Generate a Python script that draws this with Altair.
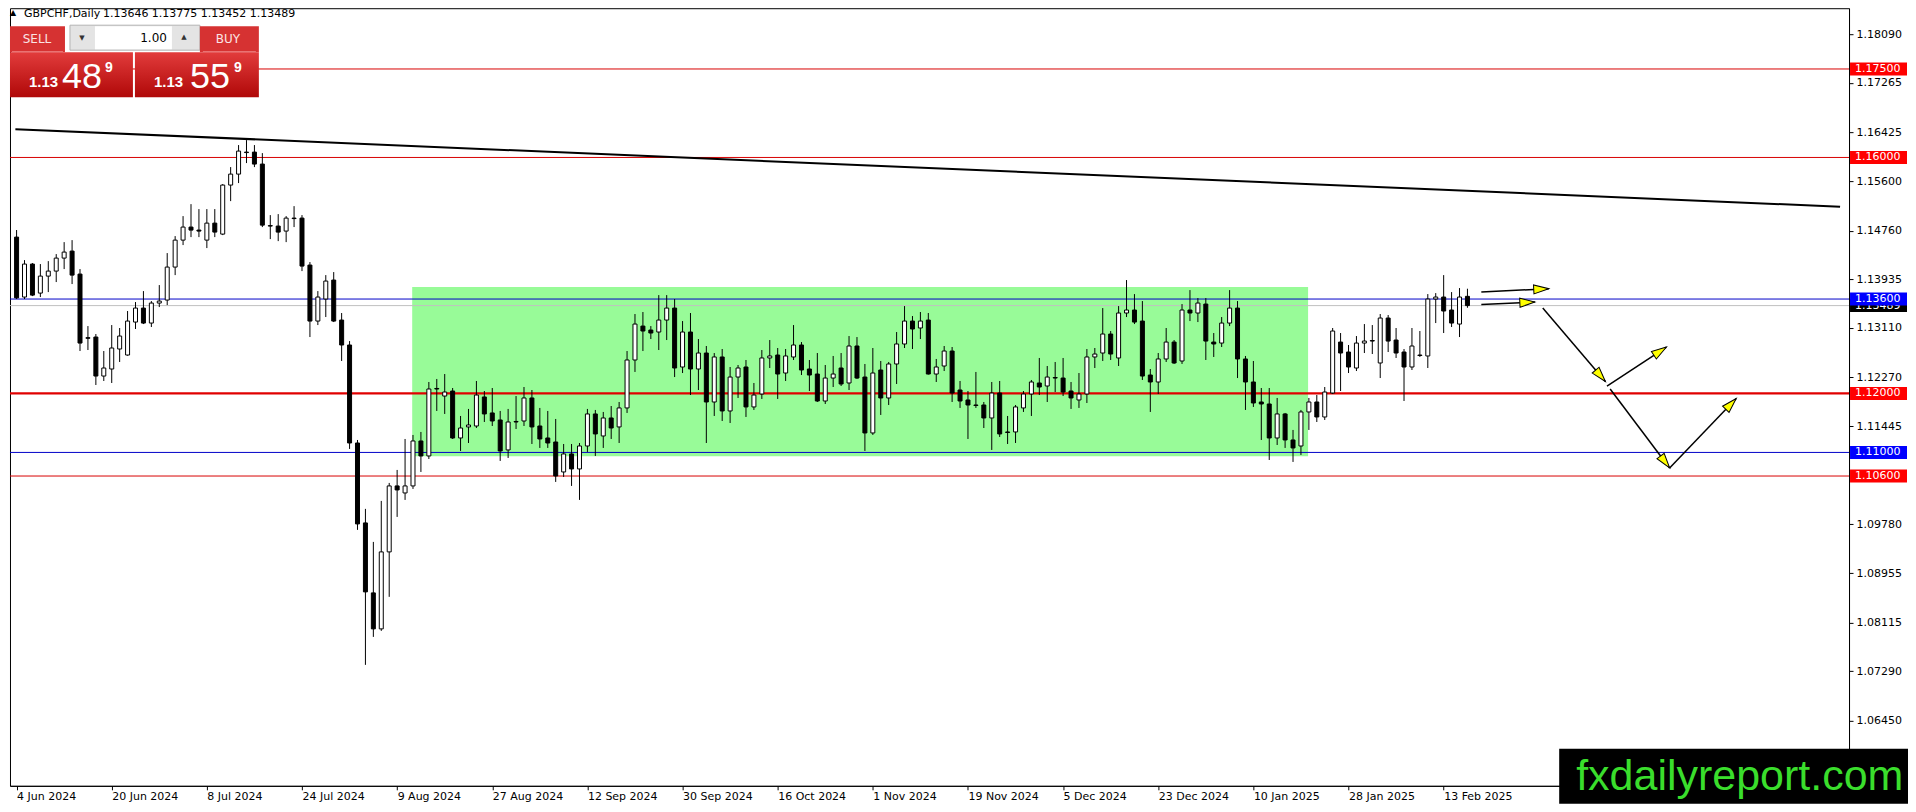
import altair as alt
import numpy as np
import pandas as pd

# ---------------- data ----------------
OPEN = [1.1465, 1.13634, 1.14193, 1.13701, 1.13989, 1.14074, 1.14294, 1.14413, 1.14023, 1.12945,
        1.12956, 1.12295, 1.12414, 1.12753, 1.12651, 1.13210, 1.13447, 1.13193, 1.13532, 1.13583,
        1.14142, 1.14599, 1.14820, 1.14769, 1.14599, 1.14887, 1.14701, 1.15532, 1.15718, 1.16091,
        1.16091, 1.15888, 1.14845, 1.14837, 1.14752, 1.14972, 1.14972, 1.14176, 1.13227, 1.13600,
        1.13922, 1.13244, 1.12821, 1.11160, 1.09805, 1.08619, 1.08009, 1.09314, 1.10432, 1.10313,
        1.10432, 1.11194, 1.10940, 1.12084, 1.11956, 1.12041, 1.11245, 1.11432, 1.11448, 1.11940,
        1.11669, 1.11550, 1.11042, 1.11525, 1.11533, 1.11923, 1.11448, 1.11245, 1.11177, 1.10669,
        1.10974, 1.10720, 1.11109, 1.11652, 1.11279, 1.11584, 1.11432, 1.11754, 1.12567, 1.13142,
        1.13075, 1.13041, 1.13244, 1.13447, 1.12448, 1.13041, 1.12414, 1.12685, 1.11855, 1.12618,
        1.11703, 1.12278, 1.12448, 1.11771, 1.11990, 1.12601, 1.12651, 1.12346, 1.12618, 1.12821,
        1.12414, 1.12329, 1.11872, 1.12261, 1.12431, 1.12177, 1.12804, 1.12278, 1.11330, 1.12397,
        1.11923, 1.12499, 1.12838, 1.13227, 1.13109, 1.13244, 1.12329, 1.12465, 1.12719, 1.12058,
        1.11889, 1.11804, 1.11804, 1.11584, 1.12007, 1.11347, 1.11347, 1.11754, 1.11990, 1.12177,
        1.12126, 1.12270, 1.12261, 1.12041, 1.11889, 1.11990, 1.12618, 1.12685, 1.13007, 1.12601,
        1.13363, 1.13414, 1.13227, 1.12312, 1.12194, 1.12584, 1.12871, 1.12550, 1.13414, 1.13363,
        1.13515, 1.12871, 1.12854, 1.13193, 1.13447, 1.12584, 1.12194, 1.11855, 1.11821, 1.11245,
        1.11652, 1.11211, 1.11109, 1.11686, 1.11855, 1.11601, 1.12007, 1.12871, 1.12702, 1.12431,
        1.12854, 1.12897, 1.12516, 1.13278, 1.12905, 1.12702, 1.12448, 1.12651, 1.12635, 1.13600,
        1.13634, 1.13414, 1.13176, 1.13646]
HIGH = [1.1477, 1.14260, 1.14210, 1.14193, 1.14243, 1.14362, 1.14565, 1.14599, 1.14108, 1.13142,
        1.13007, 1.12719, 1.13159, 1.13109, 1.13397, 1.13549, 1.13735, 1.13566, 1.13837, 1.14379,
        1.14667, 1.15006, 1.15209, 1.15125, 1.15125, 1.15125, 1.15549, 1.15837, 1.16210, 1.16294,
        1.16210, 1.16074, 1.15023, 1.15040, 1.15006, 1.15175, 1.15023, 1.14227, 1.13735, 1.14006,
        1.14057, 1.13363, 1.12888, 1.11211, 1.10043, 1.09483, 1.10178, 1.10483, 1.10703, 1.11228,
        1.11296, 1.11347, 1.12194, 1.12245, 1.12329, 1.12092, 1.11618, 1.11737, 1.12211, 1.12041,
        1.12092, 1.11703, 1.11737, 1.11956, 1.12109, 1.12058, 1.11754, 1.11703, 1.11567, 1.11143,
        1.11143, 1.11160, 1.11737, 1.11720, 1.11686, 1.11787, 1.11855, 1.12719, 1.13346, 1.13380,
        1.13142, 1.13667, 1.13667, 1.13600, 1.13227, 1.13363, 1.12922, 1.12804, 1.12685, 1.12753,
        1.12448, 1.12482, 1.12567, 1.12177, 1.12736, 1.12905, 1.12770, 1.12753, 1.13159, 1.12871,
        1.12567, 1.12685, 1.12482, 1.12635, 1.12685, 1.12973, 1.12956, 1.12499, 1.12770, 1.12550,
        1.12533, 1.13041, 1.13481, 1.13312, 1.13380, 1.13363, 1.12584, 1.12804, 1.12787, 1.12211,
        1.12041, 1.12364, 1.11855, 1.12194, 1.12211, 1.11618, 1.11804, 1.12041, 1.12228, 1.12601,
        1.12465, 1.12533, 1.12601, 1.12194, 1.12346, 1.12753, 1.12770, 1.13447, 1.13058, 1.13481,
        1.13922, 1.13684, 1.13566, 1.12414, 1.12685, 1.13109, 1.12905, 1.13515, 1.13752, 1.13617,
        1.13617, 1.13024, 1.13295, 1.13752, 1.13566, 1.12635, 1.12550, 1.12092, 1.12092, 1.11923,
        1.11669, 1.11381, 1.11720, 1.11923, 1.11973, 1.12109, 1.13109, 1.13024, 1.12821, 1.12973,
        1.13176, 1.13159, 1.13346, 1.13329, 1.13109, 1.12753, 1.13109, 1.13058, 1.13684, 1.13701,
        1.14006, 1.13718, 1.13786, 1.13775]
LOW = [1.1360, 1.13600, 1.13650, 1.13634, 1.13718, 1.13888, 1.14108, 1.13854, 1.12719, 1.12736,
       1.12143, 1.12211, 1.12177, 1.12533, 1.12640, 1.13092, 1.13176, 1.13126, 1.13464, 1.13498,
       1.14006, 1.14515, 1.14650, 1.14650, 1.14464, 1.14650, 1.14684, 1.15260, 1.15566, 1.15905,
       1.15837, 1.14820, 1.14616, 1.14582, 1.14565, 1.14820, 1.14074, 1.12956, 1.13159, 1.13295,
       1.13210, 1.12550, 1.11059, 1.09687, 1.07399, 1.07873, 1.07975, 1.08552, 1.09907, 1.10195,
       1.10381, 1.10669, 1.10889, 1.11703, 1.11652, 1.11228, 1.11025, 1.11160, 1.11414, 1.11516,
       1.11448, 1.10856, 1.10906, 1.11397, 1.11448, 1.11143, 1.11076, 1.11076, 1.10500, 1.10584,
       1.10432, 1.10195, 1.11008, 1.10940, 1.11076, 1.11228, 1.11160, 1.11669, 1.12364, 1.12719,
       1.12922, 1.12736, 1.12905, 1.12278, 1.12346, 1.11973, 1.12058, 1.11160, 1.11618, 1.11533,
       1.11499, 1.11923, 1.11601, 1.11720, 1.11906, 1.12431, 1.11906, 1.12211, 1.12567, 1.12312,
       1.12041, 1.11855, 1.11821, 1.12109, 1.12126, 1.12058, 1.12245, 1.11025, 1.11296, 1.11635,
       1.11804, 1.12160, 1.12770, 1.12753, 1.12922, 1.12320, 1.12194, 1.12380, 1.11855, 1.11754,
       1.11228, 1.11754, 1.11414, 1.11042, 1.11262, 1.11143, 1.11160, 1.11686, 1.11618, 1.11973,
       1.11855, 1.12024, 1.11956, 1.11737, 1.11754, 1.11838, 1.12431, 1.12550, 1.12567, 1.12465,
       1.13295, 1.13176, 1.12228, 1.11686, 1.11990, 1.12533, 1.12500, 1.12500, 1.13227, 1.13210,
       1.12567, 1.12618, 1.12787, 1.13142, 1.12261, 1.11720, 1.11771, 1.11211, 1.10872, 1.11126,
       1.11076, 1.10839, 1.10957, 1.11381, 1.11516, 1.11550, 1.11990, 1.12041, 1.12346, 1.12380,
       1.12685, 1.12668, 1.12261, 1.12702, 1.12601, 1.11872, 1.12397, 1.12618, 1.12431, 1.13193,
       1.13024, 1.13126, 1.12956, 1.13452]
CLOSE = [1.1362, 1.14193, 1.13667, 1.13989, 1.14074, 1.14294, 1.14396, 1.14006, 1.12854, 1.12935,
         1.12295, 1.12431, 1.12770, 1.12973, 1.13227, 1.13447, 1.13193, 1.13532, 1.13566, 1.14142,
         1.14599, 1.14820, 1.14769, 1.14752, 1.14887, 1.14735, 1.15532, 1.15718, 1.16108, 1.16083,
         1.15888, 1.14853, 1.14837, 1.14735, 1.14972, 1.14964, 1.14159, 1.13227, 1.13634, 1.13905,
         1.13227, 1.12821, 1.11160, 1.09788, 1.08636, 1.08009, 1.09314, 1.10432, 1.10364, 1.10432,
         1.11194, 1.10940, 1.12075, 1.12075, 1.12024, 1.11245, 1.11414, 1.11465, 1.11973, 1.11652,
         1.11533, 1.11025, 1.11516, 1.11516, 1.11923, 1.11432, 1.11228, 1.11160, 1.10601, 1.10974,
         1.10720, 1.11109, 1.11652, 1.11313, 1.11584, 1.11414, 1.11754, 1.12567, 1.13176, 1.13058,
         1.13024, 1.13244, 1.13447, 1.12431, 1.13041, 1.12414, 1.12685, 1.11855, 1.12618, 1.11703,
         1.12278, 1.12431, 1.11771, 1.11973, 1.12601, 1.12635, 1.12329, 1.12635, 1.12821, 1.12397,
         1.12312, 1.11872, 1.12261, 1.12329, 1.12160, 1.12804, 1.12261, 1.11330, 1.12346, 1.11923,
         1.12499, 1.12838, 1.13227, 1.13092, 1.13227, 1.12329, 1.12448, 1.12719, 1.12007, 1.11872,
         1.11804, 1.11796, 1.11584, 1.12007, 1.11313, 1.11338, 1.11771, 1.11990, 1.12194, 1.12109,
         1.12278, 1.12261, 1.12024, 1.11923, 1.11990, 1.12618, 1.12668, 1.13007, 1.12668, 1.13363,
         1.13414, 1.13210, 1.12295, 1.12194, 1.12584, 1.12871, 1.12516, 1.13414, 1.13363, 1.13532,
         1.12888, 1.12838, 1.13193, 1.13447, 1.12584, 1.12194, 1.11838, 1.11821, 1.11245, 1.11652,
         1.11211, 1.11076, 1.11686, 1.11855, 1.11601, 1.12024, 1.13058, 1.12685, 1.12448, 1.12854,
         1.12888, 1.12888, 1.13278, 1.12888, 1.12685, 1.12448, 1.12804, 1.12643, 1.13600, 1.13634,
         1.13397, 1.13193, 1.13634, 1.13489]

DATE_TICK_BARS = [0, 12, 24, 36, 48, 60, 72, 84, 96, 108, 120, 132, 144, 156, 168, 180]
DATE_LABELS = ["4 Jun 2024", "20 Jun 2024", "8 Jul 2024", "24 Jul 2024", "9 Aug 2024",
               "27 Aug 2024", "12 Sep 2024", "30 Sep 2024", "16 Oct 2024", "1 Nov 2024",
               "19 Nov 2024", "5 Dec 2024", "23 Dec 2024", "10 Jan 2025", "28 Jan 2025",
               "13 Feb 2025"]
PRICE_TICKS = [1.18090, 1.17265, 1.16425, 1.15600, 1.14760, 1.13935, 1.13110, 1.12270,
               1.11445, 1.09780, 1.08955, 1.08115, 1.07290, 1.06450]

LEVEL_PRICES = [1.17500, 1.16000, 1.13600, 1.12000, 1.11000, 1.10600]
LEVEL_KINDS = ["level", "level", "range", "key", "range", "level"]
BID_PRICE = 1.13489

TREND_BARS = [-0.15, 230.0]
TREND_PRICES = [1.16480, 1.15165]

BOX_BARS = [49.9, 162.9]
BOX_PRICES = [1.10935, 1.13803]

ARROW_START_BAR = [184.75, 184.75, 192.5, 200.6, 201.0, 208.5]
ARROW_START_PRICE = [1.13718, 1.13507, 1.13447, 1.12126, 1.12075, 1.10737]
ARROW_END_BAR = [193.25, 191.5, 200.4, 208.1, 208.5, 216.9]
ARROW_END_PRICE = [1.13776, 1.13549, 1.12202, 1.12787, 1.10737, 1.11913]

TITLE_SYMBOL = "GBPCHF,Daily"
TITLE_OHLC = "1.13646 1.13775 1.13452 1.13489"

# ---------------- layout ----------------
W, H = 1840, 778
X_DOMAIN = [-0.2, 230.5]
Y_DOMAIN = [1.05349, 1.18530]
xs = alt.Scale(domain=X_DOMAIN, nice=False, zero=False)
ys = alt.Scale(domain=Y_DOMAIN, nice=False, zero=False)
FONT = "DejaVu Sans"

label_expr = "[" + ",".join("'%s'" % s for s in DATE_LABELS) + "][round(datum.value/12)]"
x_axis = alt.Axis(values=DATE_TICK_BARS, labelExpr=label_expr, labelAlign="left",
                  labelBaseline="top", labelFlush=False, labelOverlap=False, grid=False,
                  title=None, tickSize=4, tickColor="black", domainColor="black",
                  labelFont=FONT, labelFontSize=11, labelColor="black", labelPadding=1)
y_axis = alt.Axis(orient="right", values=PRICE_TICKS, format=".5f", grid=False, title=None,
                  tickSize=4, tickColor="black", domainColor="black", labelFont=FONT,
                  labelFontSize=11, labelColor="black", labelPadding=3, labelOverlap=False)


def X(field):
    return alt.X(field, type="quantitative", scale=xs, axis=x_axis)


def Y(field):
    return alt.Y(field, type="quantitative", scale=ys, axis=y_axis)


df = pd.DataFrame({"bar": list(range(len(OPEN))), "open": OPEN, "high": HIGH,
                   "low": LOW, "close": CLOSE})
df["body_top"] = df[["open", "close"]].max(axis=1)
df["body_bot"] = df[["open", "close"]].min(axis=1)
df["dir"] = np.where(df["close"] >= df["open"], "up", "down")

box = alt.Chart(pd.DataFrame({"b0": [BOX_BARS[0]], "b1": [BOX_BARS[1]],
                              "p0": [BOX_PRICES[0]], "p1": [BOX_PRICES[1]]})).mark_rect(
    color="#98fb98").encode(x=X("b0"), x2="b1:Q", y=Y("p0"), y2="p1:Q")

lv = pd.DataFrame({"price": LEVEL_PRICES, "kind": LEVEL_KINDS})
red_thin = alt.Chart(lv[lv.kind == "level"]).mark_rule(color="#d80000", strokeWidth=1).encode(
    y=Y("price"))
red_key = alt.Chart(lv[lv.kind == "key"]).mark_rule(color="#e00000", strokeWidth=2.2).encode(
    y=Y("price"))
blue = alt.Chart(lv[lv.kind == "range"]).mark_rule(color="#0000c8", strokeWidth=1).encode(
    y=Y("price"))
bid = alt.Chart(pd.DataFrame({"price": [BID_PRICE]})).mark_rule(color="#c0c0c0",
                                                                strokeWidth=1).encode(y=Y("price"))

trend = alt.Chart(pd.DataFrame({"bar": TREND_BARS, "price": TREND_PRICES})).mark_line(
    color="black", strokeWidth=2).encode(x=X("bar"), y=Y("price"))

wicks = alt.Chart(df).mark_rule(color="black", strokeWidth=1).encode(
    x=X("bar"), y=Y("low"), y2="high:Q")
bodies = alt.Chart(df).mark_bar(size=4, stroke="black", strokeWidth=1, opacity=1).encode(
    x=X("bar"), y=Y("body_bot"), y2="body_top:Q",
    fill=alt.Fill("dir:N", scale=alt.Scale(domain=["up", "down"], range=["white", "black"]),
                  legend=None))

arr = pd.DataFrame({"b0": ARROW_START_BAR, "p0": ARROW_START_PRICE,
                    "b1": ARROW_END_BAR, "p1": ARROW_END_PRICE})
px_bar = W / (X_DOMAIN[1] - X_DOMAIN[0])
px_price = H / (Y_DOMAIN[1] - Y_DOMAIN[0])
dx = (arr.b1 - arr.b0) * px_bar
dys = -(arr.p1 - arr.p0) * px_price
arr["angle"] = (np.degrees(np.arctan2(dx, -dys)) + 360) % 360
arrow_lines = alt.Chart(arr).mark_rule(color="black", strokeWidth=1.5).encode(
    x=X("b0"), y=Y("p0"), x2="b1:Q", y2="p1:Q")
arrow_heads = alt.Chart(arr).mark_point(shape="M0,0L0.6,2L-0.6,2Z", size=225, filled=True,
                                        fill="#ffff00", stroke="black", strokeWidth=1,
                                        opacity=1).encode(
    x=X("b1"), y=Y("p1"), angle=alt.Angle("angle:Q", scale=None))

# price labels on the right scale: the bid label first, covered by the level labels
lab_color_scale = alt.Scale(domain=["bid", "level", "key", "range"],
                            range=["#000000", "#ff0000", "#ff0000", "#0000ff"])


def price_labels(prices, kinds):
    d = pd.DataFrame({"price": prices, "kind": kinds})
    boxes = alt.Chart(d).mark_tick(orient="horizontal", size=57, thickness=13,
                                   opacity=1).encode(
        x=alt.value(W + 29.5), y=Y("price"),
        color=alt.Color("kind:N", scale=lab_color_scale, legend=None))
    texts = alt.Chart(d).mark_text(align="left", baseline="middle", font=FONT,
                                   fontSize=11, color="white").encode(
        x=alt.value(W + 6), y=Y("price"), text=alt.Text("price:Q", format=".5f"))
    return [boxes, texts]


bid_labels = price_labels([BID_PRICE], ["bid"])
level_labels = price_labels(LEVEL_PRICES, LEVEL_KINDS)

# ---------------- terminal decorations ----------------
one = alt.Data(values=[{"k": 0}])


def rect(x, x2, y, y2, fill, stroke=None):
    kw = {"fill": fill}
    if stroke:
        kw.update(stroke=stroke, strokeWidth=1)
    return alt.Chart(one).mark_rect(**kw).encode(
        x=alt.value(x), x2=alt.value(x2), y=alt.value(y), y2=alt.value(y2))


def txt(s, x, y, size, color="white", font=FONT, weight="normal", align="left",
        baseline="alphabetic"):
    return alt.Chart(one).mark_text(text=s, font=font, fontSize=size, color=color,
                                    fontWeight=weight, align=align, baseline=baseline).encode(
        x=alt.value(x), y=alt.value(y))


grad = alt.LinearGradient(gradient="linear",
                          stops=[alt.GradientStop(color="#e23c3c", offset=0),
                                 alt.GradientStop(color="#b00808", offset=1)],
                          x1=0, x2=0, y1=0, y2=1)
panel = [
    rect(0, 55, 18, 44, "#d63232"),
    rect(2, 53, 43, 44, "#ef8a8a"),
    rect(60, 190, 17, 42, "#e4e4e4", "#b4b4b4"),
    rect(85, 162, 18, 41, "#ffffff"),
    rect(190, 249, 18, 44, "#d63232"),
    rect(193, 246, 43, 44, "#ef8a8a"),
    rect(0, 123, 44, 89, grad),
    rect(125, 249, 44, 89, grad),
    txt("SELL", 27, 31, 12, "#fbe4e4", align="center", baseline="middle"),
    txt("BUY", 218, 31, 12, "#fbe4e4", align="center", baseline="middle"),
    txt("▼", 72, 30, 7, "#333333", align="center", baseline="middle"),
    txt("▲", 174, 29, 7, "#333333", align="center", baseline="middle"),
    txt("1.00", 157, 30, 12, "black", align="right", baseline="middle"),
    txt("1.13", 19, 79, 15, weight="bold", font="Liberation Sans"),
    txt("48", 52, 80, 36, font="Liberation Sans"),
    txt("9", 95, 64, 14, weight="bold", font="Liberation Sans"),
    txt("1.13", 144, 79, 15, weight="bold", font="Liberation Sans"),
    txt("55", 180, 80, 36, font="Liberation Sans"),
    txt("9", 224, 64, 14, weight="bold", font="Liberation Sans"),
    txt("▲", 0, 1, 8, "black", baseline="top"),
    txt(TITLE_SYMBOL, 14, 0, 11, "black", baseline="top"),
    txt(TITLE_OHLC, 93, 0, 11, "black", baseline="top"),
]

watermark = [
    rect(1550, 1899, 741, 796, "#000000"),
    txt("fxdailyreport.com", 1567, 782, 43, "#3ade2c", font="Liberation Sans"),
]

layers = ([box, red_thin, blue, bid, red_key, trend, wicks, bodies, arrow_lines, arrow_heads]
          + bid_labels + level_labels + panel + watermark)

chart = alt.layer(*layers).properties(
    width=W, height=H, padding=0, background="white"
).configure_view(stroke="black", strokeWidth=1)

chart.save("out.html", embed_options={"renderer": "svg", "actions": False})
